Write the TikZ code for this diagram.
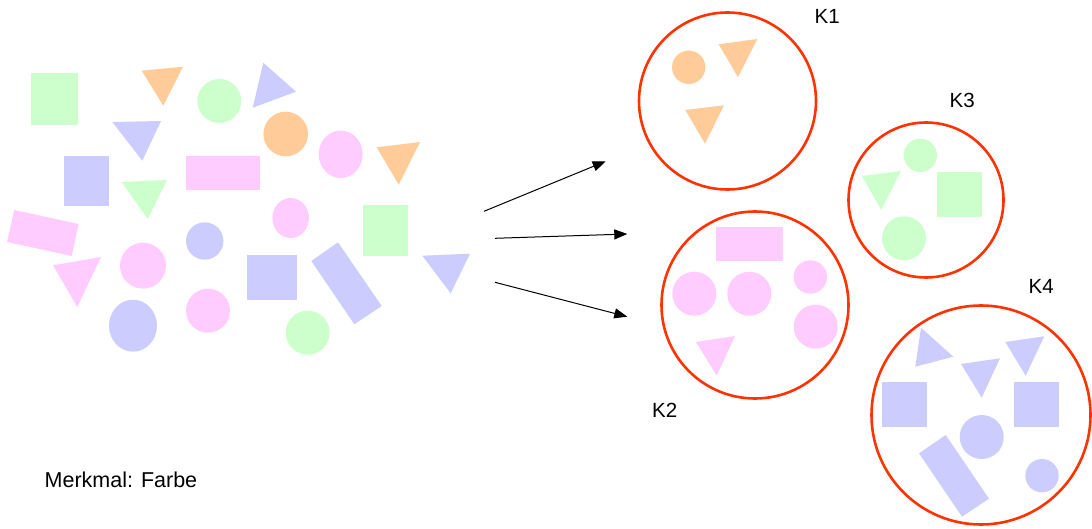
\documentclass[tikz,border=0pt]{standalone}
\usepackage{fontspec}
\setmainfont{Liberation Sans}
\usetikzlibrary{arrows.meta}
\definecolor{cgreen}{HTML}{CCFFCC}
\definecolor{corange}{HTML}{FFCC99}
\definecolor{cblue}{HTML}{CCCCFF}
\definecolor{cpink}{HTML}{FFCCFF}
\definecolor{cred}{HTML}{FF3300}
\tikzset{
  cluster/.style={draw=cred, line width=2.6pt},
  lbl/.style={anchor=base west, inner sep=0pt, font=\fontsize{20.5}{24}\selectfont},
  arr/.style={line width=1pt, -{Triangle[length=13pt,width=10pt]}}
}
\begin{document}
\begin{tikzpicture}[x=1pt,y=-1pt]
\useasboundingbox (0,0) rectangle (1092,529);
% ---- unsorted shapes ----
\fill[cgreen] (31,73) rectangle (78,125);
\fill[corange] (141.7,70.7) -- (183,66.7) -- (163.3,105.7) -- cycle;
\fill[cgreen] (219.3,101) circle[radius=22pt];
\fill[cblue] (263.3,62.7) -- (296,91.7) -- (252.7,107.7) -- cycle;
\fill[cblue] (112.3,122) -- (161,121) -- (142.3,160.7) -- cycle;
\fill[cblue] (64,156) rectangle (109,205.7);
\fill[cgreen] (121.7,182) -- (167,180) -- (147.7,219) -- cycle;
\fill[cpink] (186,156) rectangle (260,190);
\fill[corange] (285.7,134) circle[radius=22.3pt];
\fill[cpink] (340.7,154.3) circle[x radius=22pt, y radius=23.7pt];
\fill[corange] (376.7,147.3) -- (420,142) -- (398.7,184.7) -- cycle;
\fill[cpink] (14.3,210) -- (78.7,224) -- (71.7,256) -- (7,242) -- cycle;
\fill[cpink] (53,265.3) -- (101,257) -- (77.3,307) -- cycle;
\fill[cpink] (143,265.7) circle[radius=23pt];
\fill[cblue] (204.7,241) circle[radius=18.7pt];
\fill[cblue] (133,325.7) circle[x radius=24pt, y radius=26pt];
\fill[cpink] (208,310.7) circle[radius=22pt];
\fill[cpink] (290.7,218) circle[x radius=18.3pt, y radius=20pt];
\fill[cgreen] (363,205) rectangle (408,255.7);
\fill[cblue] (247,255) rectangle (297,299.7);
\fill[cblue] (311.3,261) -- (338,242.3) -- (381.7,306) -- (354.3,324.3) -- cycle;
\fill[cgreen] (307.7,332.7) circle[radius=22pt];
\fill[cblue] (422.3,255.7) -- (470,253.7) -- (450.7,293.3) -- cycle;
% ---- arrows ----
\coordinate (a1s) at (484,211.3); \coordinate (a1e) at (605.7,161.3);
\coordinate (a2s) at (495,238.3); \coordinate (a2e) at (627.3,234);
\coordinate (a3s) at (495,282.3); \coordinate (a3e) at (627.3,316.7);
\draw[arr] (a1s) -- (a1e);
\draw[arr] (a2s) -- (a2e);
\draw[arr] (a3s) -- (a3e);
% ---- K1 ----
\draw[cluster] (727.5,101) circle[radius=88.5pt];
\fill[corange] (688.7,67.3) circle[radius=16.7pt];
\fill[corange] (718.7,44.3) -- (757.3,39) -- (738,77.3) -- cycle;
\fill[corange] (685.3,110) -- (724,105.3) -- (705,143.7) -- cycle;
\node[lbl] (k1) at (814.5,24) {K1};
% ---- K2 ----
\draw[cluster] (755,305) circle[radius=93.5pt];
\fill[cpink] (716,227) rectangle (783,261);
\fill[cpink] (694.3,293.7) circle[radius=22pt];
\fill[cpink] (749.3,293.7) circle[radius=22pt];
\fill[cpink] (810.3,277) circle[radius=16.7pt];
\fill[cpink] (815.7,326.7) circle[radius=22pt];
\fill[cpink] (696,342) -- (735,336) -- (716.7,375.7) -- cycle;
\node[lbl] (k2) at (652,417) {K2};
% ---- K3 ----
\draw[cluster] (926,200) circle[radius=77.5pt];
\fill[cgreen] (920.3,155.3) circle[radius=16.7pt];
\fill[cgreen] (862,176) -- (901,171) -- (881.3,210) -- cycle;
\fill[cgreen] (937,172) rectangle (982,216.7);
\fill[cgreen] (904,238.3) circle[radius=22pt];
\node[lbl] (k3) at (949.5,107.3) {K3};
% ---- K4 ----
\draw[cluster] (981,415) circle[radius=109.5pt];
\fill[cblue] (921,327.7) -- (953.3,356.7) -- (915.3,366.7) -- cycle;
\fill[cblue] (961,364) -- (1000,358.3) -- (981.7,397.7) -- cycle;
\fill[cblue] (1005.3,342) -- (1044.3,336.3) -- (1025.7,375.7) -- cycle;
\fill[cblue] (882,382) rectangle (927,426.7);
\fill[cblue] (1014,382) rectangle (1059,426.7);
\fill[cblue] (981.7,437) circle[radius=22pt];
\fill[cblue] (1042,475.7) circle[radius=16.7pt];
\fill[cblue] (919,453.3) -- (945.7,435) -- (989,498.7) -- (962,516.7) -- cycle;
\node[lbl] (k4) at (1028.5,293.3) {K4};
% ---- caption ----
\node[lbl, font=\fontsize{21.5}{25}\selectfont] (merk) at (44.5,487.5) {Merkmal: Farbe};
\end{tikzpicture}
\end{document}
